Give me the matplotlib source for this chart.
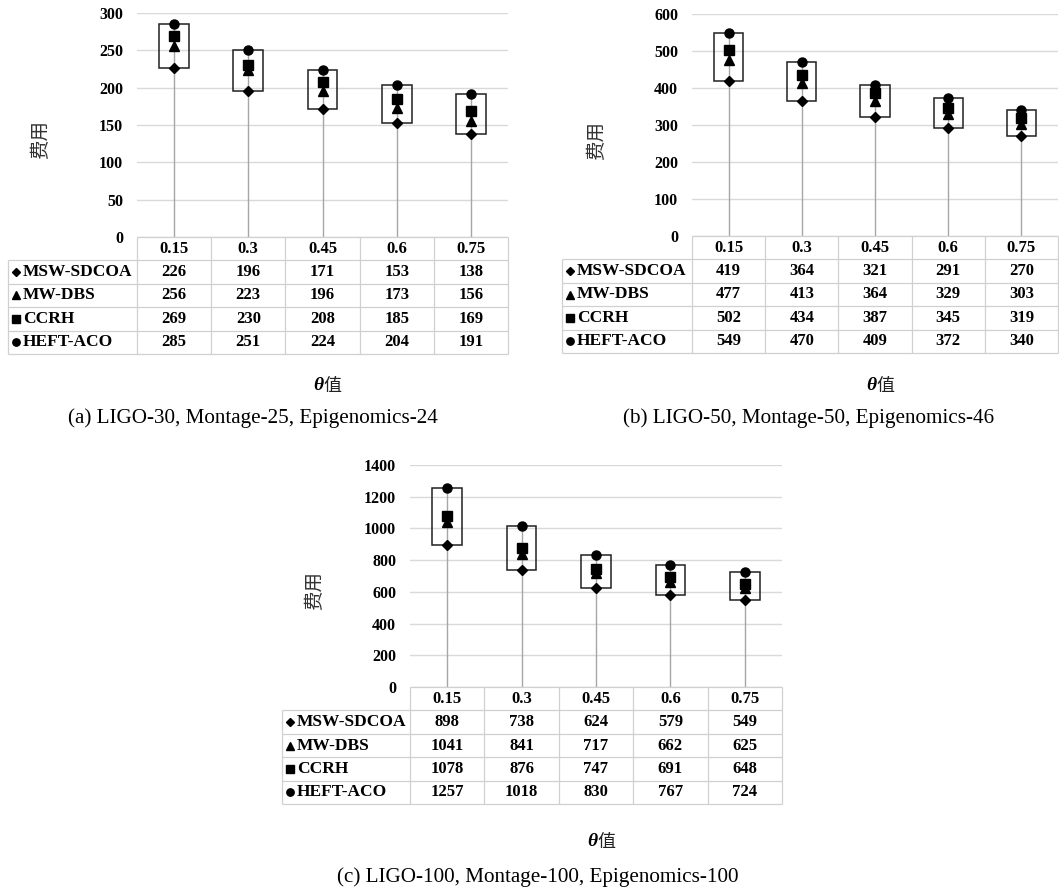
"""Cost vs theta for three workflow sizes (stock-style box + data table)."""
import matplotlib

matplotlib.use("Agg")
import matplotlib.pyplot as plt
from matplotlib.patches import Rectangle

plt.rcParams["font.family"] = ["Liberation Serif", "Noto Sans CJK SC"]

# Data
thetas = ["0.15", "0.3", "0.45", "0.6", "0.75"]
series_names = ["MSW-SDCOA", "MW-DBS", "CCRH", "HEFT-ACO"]
series_markers = ["D", "^", "s", "o"]

msw_a = [226, 196, 171, 153, 138]
mwdbs_a = [256, 223, 196, 173, 156]
ccrh_a = [269, 230, 208, 185, 169]
heft_a = [285, 251, 224, 204, 191]

msw_b = [419, 364, 321, 291, 270]
mwdbs_b = [477, 413, 364, 329, 303]
ccrh_b = [502, 434, 387, 345, 319]
heft_b = [549, 470, 409, 372, 340]

msw_c = [898, 738, 624, 579, 549]
mwdbs_c = [1041, 841, 717, 662, 625]
ccrh_c = [1078, 876, 747, 691, 648]
heft_c = [1257, 1018, 830, 767, 724]

yticks_a = [0, 50, 100, 150, 200, 250, 300]
yticks_b = [0, 100, 200, 300, 400, 500, 600]
yticks_c = [0, 200, 400, 600, 800, 1000, 1200, 1400]

caption_a = "(a) LIGO-30, Montage-25, Epigenomics-24"
caption_b = "(b) LIGO-50, Montage-50, Epigenomics-46"
caption_c = "(c) LIGO-100, Montage-100, Epigenomics-100"

# Figure size in pixels
W, H = 1059, 892
fig = plt.figure(figsize=(W / 100, H / 100), dpi=100)

grid_color = "#d9d9d9"
table_color = "#d0d0d0"


def box(x0, y0, x1, y1):
    """Pixel box (top-left origin) -> figure fraction rect."""
    return [x0 / W, 1 - y1 / H, (x1 - x0) / W, (y1 - y0) / H]


def draw_panel(plot_px, label_left, series, yticks, caption, cap_xy,
               xlabel_y, ylabel_xy):
    x0, y0, x1, y1 = plot_px
    col_w = (x1 - x0) / 5.0
    row_h = 23.4

    # chart area
    ax = fig.add_axes(box(x0, y0, x1, y1))
    ax.set_xlim(-0.5, 4.5)
    ax.set_ylim(yticks[0], yticks[-1])
    for s in ax.spines.values():
        s.set_visible(False)
    ax.set_xticks([])
    ax.set_yticks(yticks)
    ax.set_yticklabels([str(v) for v in yticks], fontweight="bold",
                       fontsize=11.5)
    ax.tick_params(axis="y", length=0, pad=10)
    ax.yaxis.grid(True, color=grid_color, lw=1.0)
    ax.set_axisbelow(True)

    low = series[0]
    high = series[-1]
    xs = range(len(thetas))
    ax.vlines(xs, 0, high, color="#a6a6a6", lw=1.0, zorder=2)
    for i in xs:
        ax.add_patch(Rectangle((i - 0.2, low[i]), 0.4, high[i] - low[i],
                               fill=False, ec="#202020", lw=1.1, zorder=3))
    for vals, mk in zip(series, series_markers):
        ms = 5.4 if mk == "D" else 6.5
        ax.plot(xs, vals, ls="none", marker=mk, color="black", ms=ms,
                zorder=4)

    # y label, anchor (right edge of rotated text) given in pixels
    ax.set_ylabel("费用", fontsize=14, family="Noto Sans CJK SC",
                  color="#333333")
    ax.yaxis.set_label_coords((ylabel_xy[0] - x0) / (x1 - x0),
                              (y1 - ylabel_xy[1]) / (y1 - y0))

    # data table under the chart
    lw_cols = (x0 - label_left) / col_w
    tax = fig.add_axes(box(label_left, y1, x1, y1 + 5 * row_h))
    tax.set_xlim(-0.5 - lw_cols, 4.5)
    tax.set_ylim(5, 0)
    tax.axis("off")
    left = -0.5 - lw_cols
    tax.hlines(0, -0.5, 4.5, color=table_color, lw=0.9, clip_on=False)
    tax.hlines(range(1, 6), left, 4.5, color=table_color, lw=0.9,
               clip_on=False)
    tax.vlines(left, 1, 5, color=table_color, lw=0.9, clip_on=False)
    tax.vlines([k - 0.5 for k in range(6)], 0, 5, color=table_color,
               lw=0.9, clip_on=False)
    for i, t in enumerate(thetas):
        tax.text(i, 0.5, t, ha="center", va="center", fontsize=12,
                 fontweight="bold")
    for r, (name, mk, vals) in enumerate(zip(series_names, series_markers,
                                             series)):
        yy = r + 1.5
        ms = 4.3 if mk == "D" else 5.3
        tax.plot(left + 8 / col_w, yy, marker=mk, color="black", ms=ms,
                 clip_on=False)
        tax.text(left + 15 / col_w, yy, name, ha="left", va="center",
                 fontsize=12.5, fontweight="bold")
        for i, v in enumerate(vals):
            tax.text(i, yy, str(v), ha="center", va="center", fontsize=12,
                     fontweight="bold")

    # x label: italic theta + 值
    cx = (x0 + x1) / 2
    fig.text((cx + 1) / W, 1 - xlabel_y / H, "θ", ha="right", va="center",
             fontsize=14, fontweight="bold", style="italic",
             family="Liberation Serif")
    fig.text((cx + 1) / W, 1 - xlabel_y / H, "值", ha="left", va="center",
             fontsize=13, family="Noto Sans CJK SC", color="#222222")

    fig.text(cap_xy[0] / W, 1 - cap_xy[1] / H, caption, ha="center",
             va="center", fontsize=15.2)


draw_panel((137, 13, 508, 237), 8, [msw_a, mwdbs_a, ccrh_a, heft_a],
           yticks_a, caption_a, (253, 418), 386, (51, 140))
draw_panel((692, 14, 1058, 236), 562, [msw_b, mwdbs_b, ccrh_b, heft_b],
           yticks_b, caption_b, (809, 418), 386, (607, 140))
draw_panel((410, 465, 782, 687), 282, [msw_c, mwdbs_c, ccrh_c, heft_c],
           yticks_c, caption_c, (538, 877), 842, (325, 591))

fig.savefig("out.png", dpi=100, facecolor="white")
